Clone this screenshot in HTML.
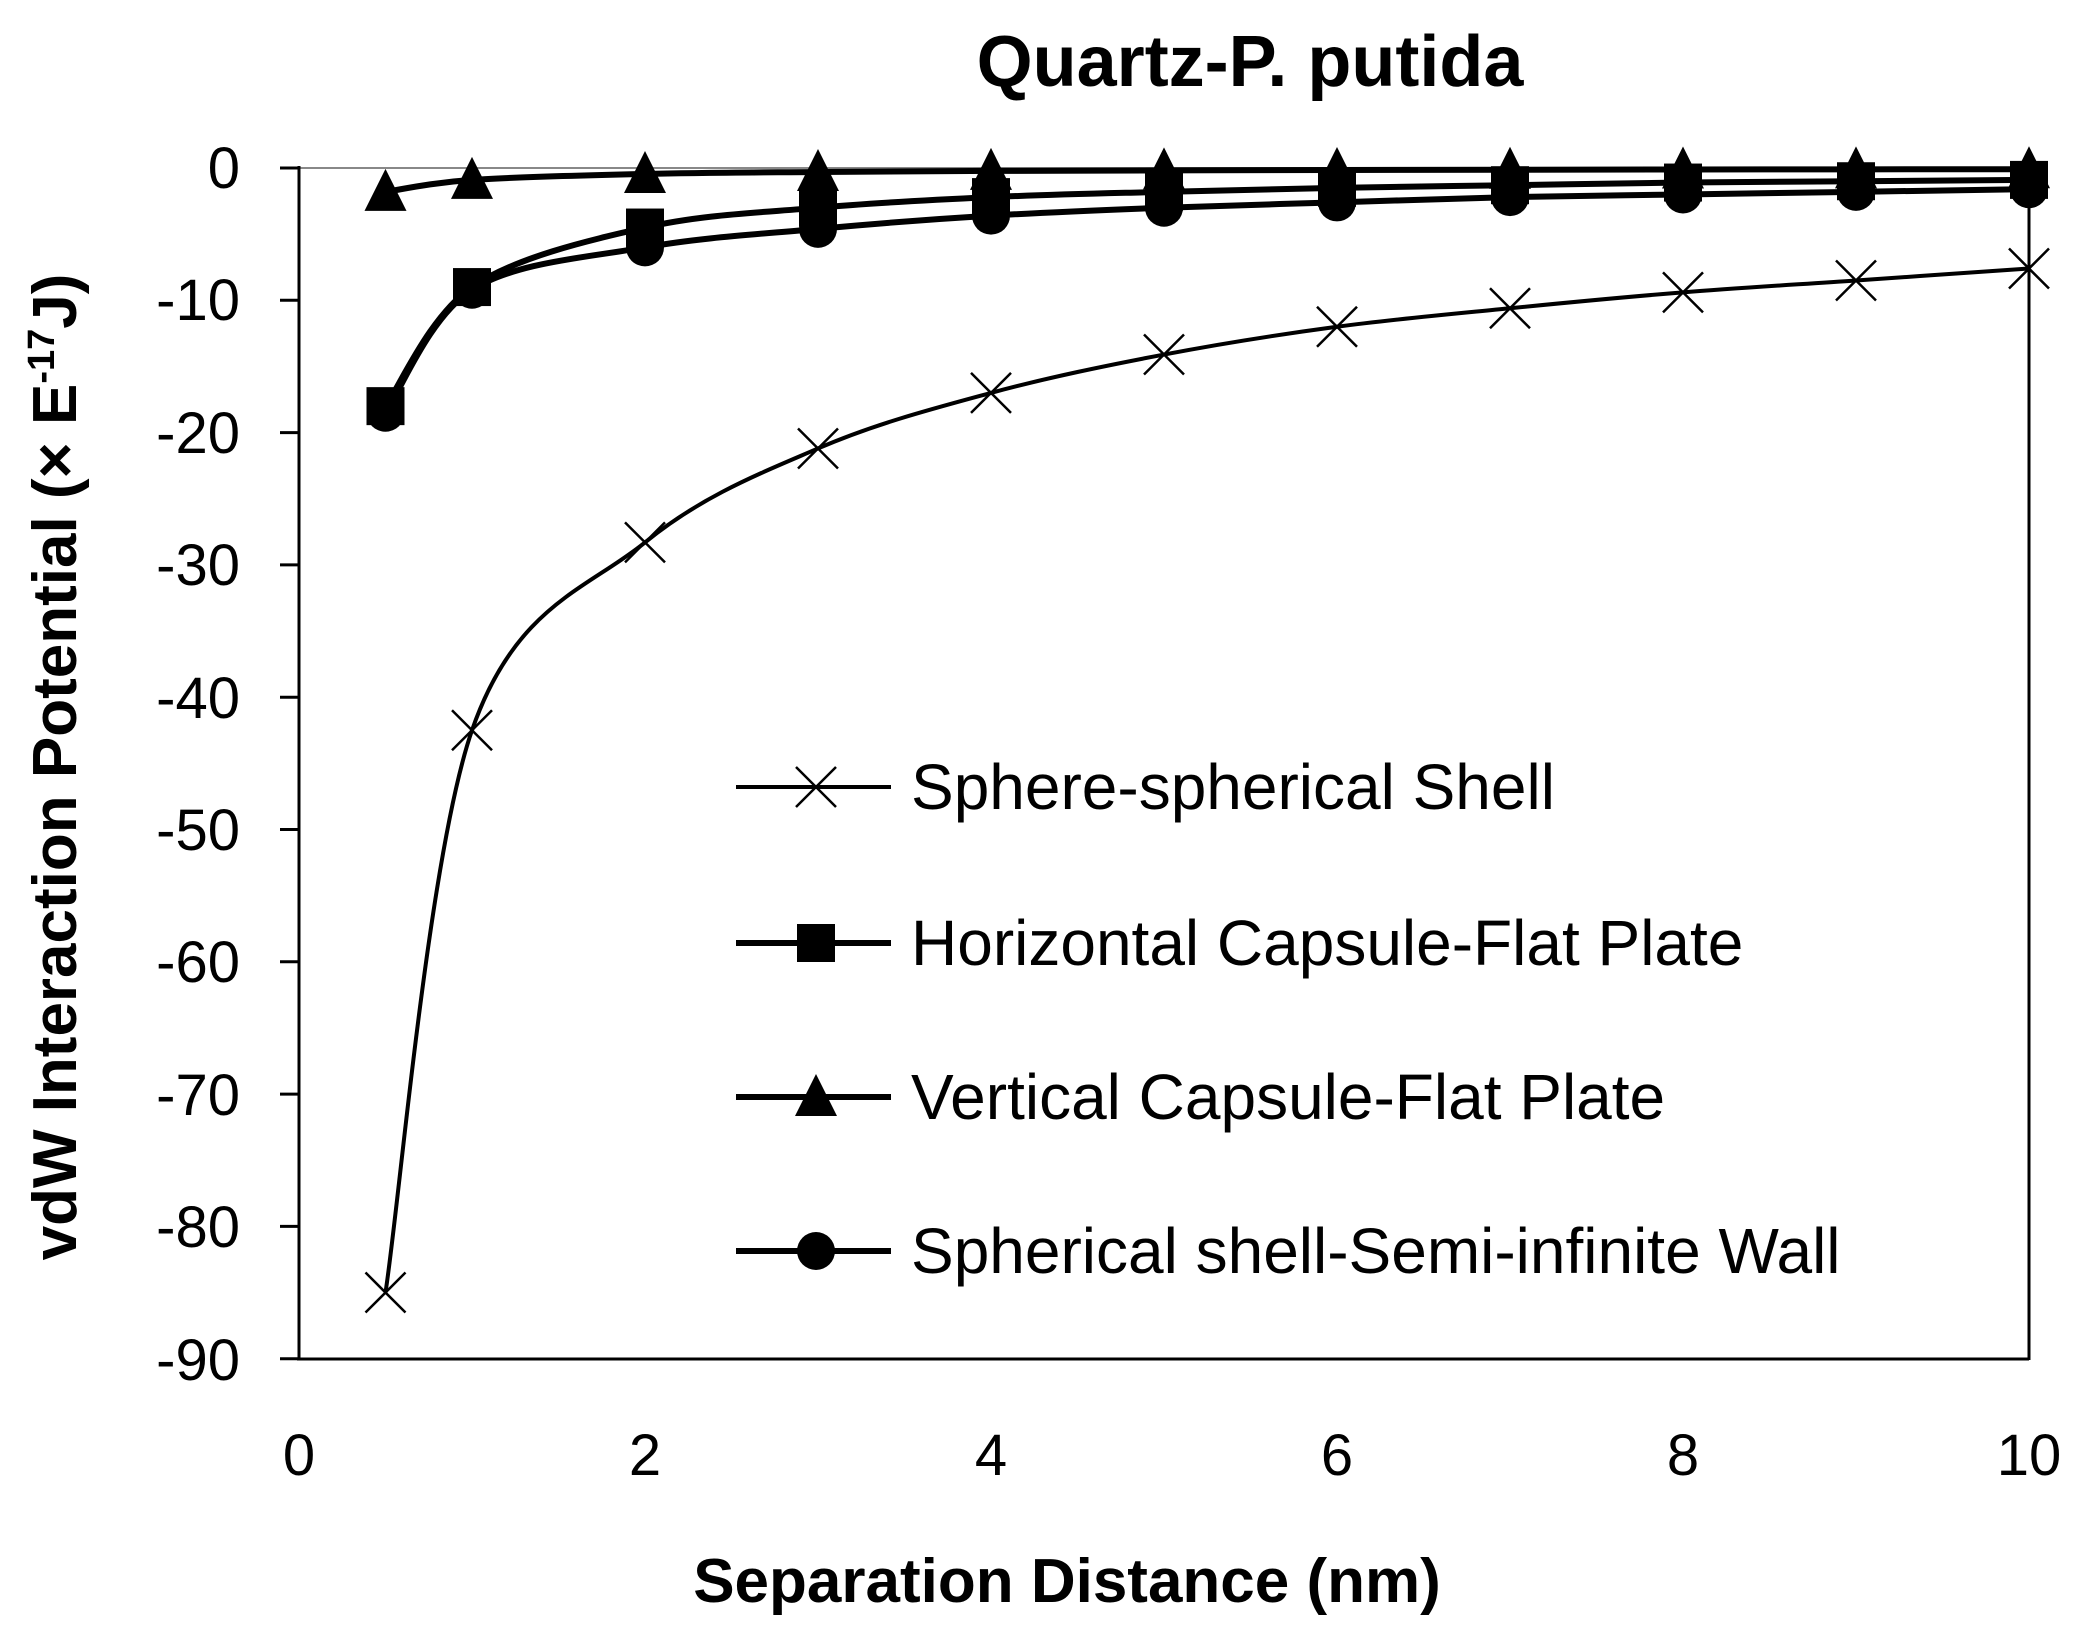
<!DOCTYPE html>
<html><head><meta charset="utf-8">
<style>html,body{margin:0;padding:0;background:#fff}svg{display:block}</style></head>
<body>
<svg id="s" width="2084" height="1629" viewBox="0 0 2084 1629" xmlns="http://www.w3.org/2000/svg" font-family="Liberation Sans, sans-serif">
<rect width="2084" height="1629" fill="#fff"/>
<text x="1250" y="86" font-size="72" font-weight="bold" text-anchor="middle">Quartz-P. putida</text>
<line x1="299" y1="168" x2="2029" y2="168" stroke="#888" stroke-width="2"/>
<line x1="299" y1="166" x2="299" y2="1360" stroke="#000" stroke-width="3"/>
<line x1="297" y1="1359" x2="2029" y2="1359" stroke="#000" stroke-width="3"/>
<line x1="2029" y1="166" x2="2029" y2="1360" stroke="#000" stroke-width="3"/>
<g id="ticks" stroke="#000" stroke-width="3"></g>
<g font-size="58" text-anchor="end">
<text x="240" y="188">0</text><text x="240" y="320">-10</text><text x="240" y="453">-20</text>
<text x="240" y="585">-30</text><text x="240" y="718">-40</text><text x="240" y="850">-50</text>
<text x="240" y="982">-60</text><text x="240" y="1115">-70</text><text x="240" y="1247">-80</text>
<text x="240" y="1380">-90</text>
</g>
<g font-size="58" text-anchor="middle">
<text x="299" y="1475">0</text><text x="645" y="1475">2</text><text x="991" y="1475">4</text>
<text x="1337" y="1475">6</text><text x="1683" y="1475">8</text><text x="2029" y="1475">10</text>
</g>
<text x="1067" y="1602" font-size="62" font-weight="bold" text-anchor="middle">Separation Distance (nm)</text>
<text transform="translate(76,767) rotate(-90)" font-size="62" font-weight="bold" text-anchor="middle">vdW Interaction Potential (× E<tspan font-size="38" dy="-22">-17</tspan><tspan dy="22">J)</tspan></text>
<g id="series"></g>
<g font-size="64">
<text x="911" y="809">Sphere-spherical Shell</text>
<text x="911" y="965">Horizontal Capsule-Flat Plate</text>
<text x="911" y="1119">Vertical Capsule-Flat Plate</text>
<text x="911" y="1273">Spherical shell-Semi-infinite Wall</text>
</g>
<g id="leg"></g>
</svg>
<script>
const NS="http://www.w3.org/2000/svg";
const X=v=>299+v*173, Y=v=>168-v*13.23;
function el(t,a,p){const e=document.createElementNS(NS,t);for(const k in a)e.setAttribute(k,a[k]);p.appendChild(e);return e;}
const tk=document.getElementById('ticks');
for(let i=0;i<=9;i++)el('line',{x1:280,x2:299,y1:Y(-10*i),y2:Y(-10*i)},tk);
const xs=[0.5,1,2,3,4,5,6,7,8,9,10];
const S=[
 {m:'x',d:[-85,-42.5,-28.3,-21.2,-17,-14.1,-12,-10.6,-9.4,-8.5,-7.6]},
 {m:'o',d:[-18.5,-9.2,-6,-4.6,-3.6,-3,-2.6,-2.2,-2,-1.8,-1.6]},
 {m:'s',d:[-18,-9,-4.5,-3,-2.2,-1.8,-1.5,-1.3,-1.1,-1,-0.9]},
 {m:'t',d:[-1.8,-0.9,-0.45,-0.3,-0.22,-0.18,-0.15,-0.13,-0.11,-0.1,-0.09]}
];
const g=document.getElementById('series');
function path(pts){let d=`M${pts[0][0]},${pts[0][1]}`;
 for(let i=0;i<pts.length-1;i++){const p0=pts[Math.max(0,i-1)],p1=pts[i],p2=pts[i+1],p3=pts[Math.min(pts.length-1,i+2)];
 const t=0.5/3;
 d+=` C${p1[0]+(p2[0]-p0[0])*t},${p1[1]+(p2[1]-p0[1])*t} ${p2[0]-(p3[0]-p1[0])*t},${p2[1]-(p3[1]-p1[1])*t} ${p2[0]},${p2[1]}`;}
 return d;}
function marker(m,x,y,p){
 if(m=='x'){el('path',{d:`M${x-20},${y-20}L${x+20},${y+20}M${x-20},${y+20}L${x+20},${y-20}`,stroke:'#000','stroke-width':2.5,fill:'none'},p);}
 else if(m=='s')el('rect',{x:x-19,y:y-19,width:38,height:38,fill:'#000'},p);
 else if(m=='o')el('circle',{cx:x,cy:y,r:19,fill:'#000'},p);
 else el('path',{d:`M${x},${y-23}L${x+21},${y+19}L${x-21},${y+19}Z`,fill:'#000'},p);}
for(const s of S){const pts=xs.map((x,i)=>[X(x),Y(s.d[i])]);
 el('path',{d:path(pts),fill:'none',stroke:'#000','stroke-width':s.m=='x'?4:6},g);}
for(const s of S){xs.forEach((x,i)=>marker(s.m,X(x),Y(s.d[i]),g));}
const lg=document.getElementById('leg');
[['x',787],['s',943],['t',1097],['o',1251]].forEach(([m,y])=>{
 el('line',{x1:736,x2:891,y1:y,y2:y,stroke:'#000','stroke-width':m=='x'?4:6},lg);marker(m,816,y,lg);});
</script>
</body></html>
